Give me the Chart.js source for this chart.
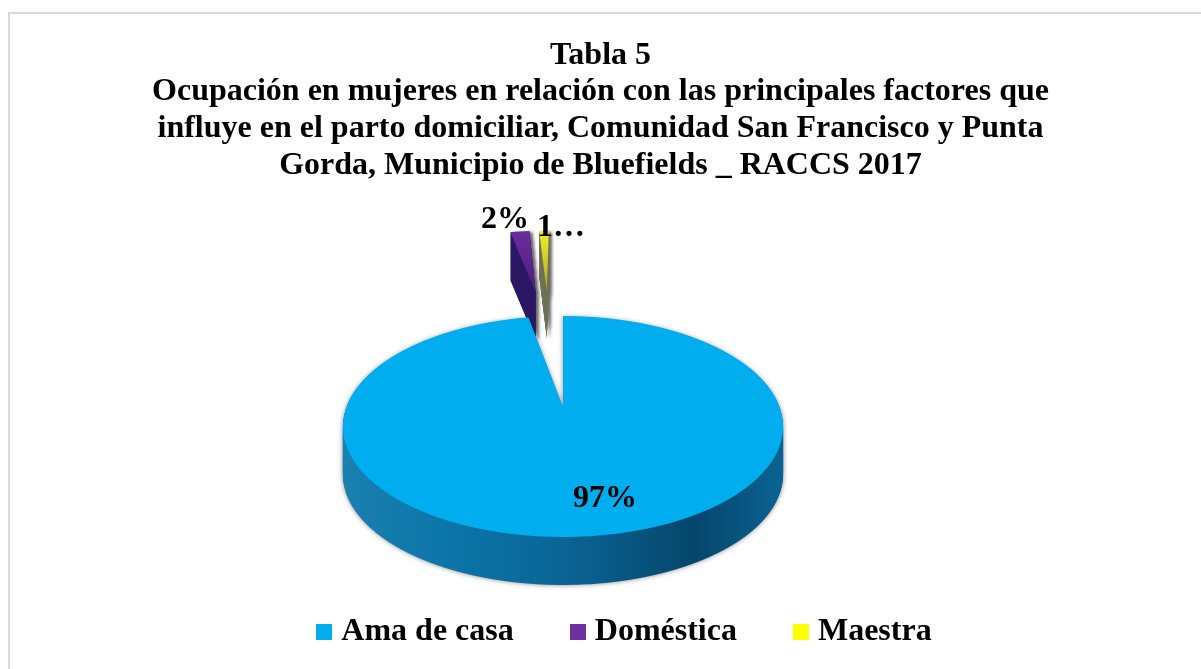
<!DOCTYPE html>
<html>
<head>
<meta charset="utf-8">
<style>
  html, body { margin: 0; background: #fff; overflow: hidden; }
  #frame { position: absolute; left: 8px; top: 12px; right: -4px; bottom: -4px; border: 2px solid #d9d9d9; }
  canvas { position: absolute; left: 0; top: 0; }
</style>
<script src="https://cdn.jsdelivr.net/npm/chart.js@4/dist/chart.umd.min.js"></script>
</head>
<body>
<div id="frame"></div>
<canvas id="pie" width="1201" height="669"></canvas>
<script>
const titleLines = [
    'Tabla 5',
    'Ocupación en mujeres en relación con las principales factores que',
    'influye en el parto domiciliar, Comunidad San Francisco y Punta',
    'Gorda, Municipio de Bluefields _ RACCS 2017'
]
const categories = ['Ama de casa', 'Doméstica', 'Maestra']
const values = [97, 2, 1]
const valueLabels = ['97%', '2%', '1…']
const colors = ['#00ADEF', '#7030A0', '#FFFF00']

const W = 1201, H = 669
const FONT = '"Liberation Serif", "Times New Roman", serif'

// tilted-disc projection, worked out from the rim of the picture
const view = { cx: 563, cy: 407, a: 216.6, b: 107.06, c: -0.1765 }
const sliceShift = [[0, 0], [-0.155, -1.316], [-0.092, -1.316]]
const sliceDepth = [48, 48, 46]
const labelSpots = [[605, 499], [505, 220], [561, 228]]

function newLayer() {
    const c = document.createElement('canvas')
    c.width = W
    c.height = H
    return c
}

// paints one arc element row by row through the projection
function projectArc(arc, shift, layer) {
    const ctx = layer.getContext('2d')
    const R = arc.outerRadius
    const toY = q => q / (view.b - view.c * q)
    for (let row = 150; row < 600; row++) {
        const Y0 = toY(row - view.cy), Y1 = toY(row + 1 - view.cy)
        const w = 1 + view.c * (Y0 + Y1) / 2
        const sx = view.a / (w * R)
        const sy = 1 / ((Y1 - Y0) * R)
        const py0 = arc.y + (Y0 - shift[1]) * R
        ctx.save()
        ctx.beginPath()
        ctx.rect(0, row, W, 1)
        ctx.clip()
        ctx.setTransform(sx, 0, 0, sy, view.cx + view.a * shift[0] / w - arc.x * sx, row - py0 * sy)
        arc.draw(ctx)
        ctx.restore()
    }
}

function sideFill(ctx, i) {
    if (i === 0) {
        const g = ctx.createLinearGradient(343, 0, 783, 0)
        g.addColorStop(0, '#1a80b0')
        g.addColorStop(0.25, '#0b74a8')
        g.addColorStop(0.5, '#0a6596')
        g.addColorStop(0.8, '#05466b')
        g.addColorStop(1, '#0a6394')
        return g
    }
    return i === 1 ? '#2b1763' : '#6f6f55'
}

function topTint(ctx, i) {
    if (i === 0) return null
    const g = ctx.createLinearGradient(0, 231, 0, 300)
    if (i === 1) {
        g.addColorStop(0, 'rgba(60,20,130,0.15)')
        g.addColorStop(1, 'rgba(30,10,80,0.55)')
    } else {
        g.addColorStop(0, 'rgba(200,200,110,0.35)')
        g.addColorStop(1, 'rgba(80,80,40,0.65)')
    }
    return g
}

const tiltedPie = {
    id: 'tiltedPie',
    beforeDraw(chart) {
        // legend block sits right of the page centre in the original
        chart.legend.left += 27
        chart.legend.right += 27
    },
    beforeDatasetDraw() {
        return false
    },
    afterDatasetsDraw(chart) {
        const ctx = chart.ctx
        const arcs = chart.getDatasetMeta(0).data
        // far slices first, the big one sits in front of them
        for (const i of [1, 2, 0]) {
            const top = newLayer()
            projectArc(arcs[i], sliceShift[i], top)

            const side = newLayer()
            const sc = side.getContext('2d')
            for (let d = sliceDepth[i]; d > 0; d--) sc.drawImage(top, 0, d)
            sc.globalCompositeOperation = 'source-in'
            sc.fillStyle = sideFill(sc, i)
            sc.fillRect(0, 0, W, H)

            ctx.save()
            ctx.shadowColor = i === 0 ? 'rgba(40,40,40,0.55)' : 'rgba(40,40,40,0.7)'
            ctx.shadowBlur = i === 0 ? 5 : 3
            ctx.shadowOffsetX = i === 0 ? 0 : 3
            ctx.drawImage(side, 0, 0)
            ctx.restore()

            const tint = topTint(ctx, i)
            if (tint) {
                const tc = top.getContext('2d')
                tc.globalCompositeOperation = 'source-atop'
                tc.fillStyle = tint
                tc.fillRect(0, 0, W, H)
            }
            ctx.drawImage(top, 0, 0)
        }
        ctx.save()
        ctx.font = 'bold 32px ' + FONT
        ctx.fillStyle = '#000'
        ctx.textAlign = 'center'
        ctx.textBaseline = 'middle'
        valueLabels.forEach((t, i) => ctx.fillText(t, labelSpots[i][0], labelSpots[i][1]))
        ctx.restore()
    }
}

function legendSwatch(color) {
    const c = document.createElement('canvas')
    c.width = 16
    c.height = 16
    const x = c.getContext('2d')
    x.fillStyle = color
    x.fillRect(0, 0, 16, 16)
    return c
}

new Chart(document.getElementById('pie'), {
    type: 'pie',
    data: {
        labels: categories,
        datasets: [{
            data: values,
            backgroundColor: colors,
            borderWidth: 0
        }]
    },
    options: {
        responsive: false,
        animation: false,
        layout: { padding: { top: 27, bottom: 11 } },
        plugins: {
            tooltip: { enabled: false },
            title: {
                display: true,
                text: titleLines,
                color: '#000',
                font: { family: FONT, size: 32, weight: 'bold', lineHeight: 1.15 }
            },
            legend: {
                position: 'bottom',
                labels: {
                    color: '#000',
                    font: { family: FONT, size: 32, weight: 'bold' },
                    usePointStyle: true,
                    boxWidth: 2,
                    boxHeight: 16,
                    padding: 63,
                    generateLabels(chart) {
                        return categories.map((name, i) => ({
                            text: name,
                            fillStyle: colors[i],
                            strokeStyle: colors[i],
                            lineWidth: 0,
                            pointStyle: legendSwatch(colors[i]),
                            hidden: false,
                            index: i
                        }))
                    }
                }
            }
        }
    },
    plugins: [tiltedPie]
})
</script>
</body>
</html>
